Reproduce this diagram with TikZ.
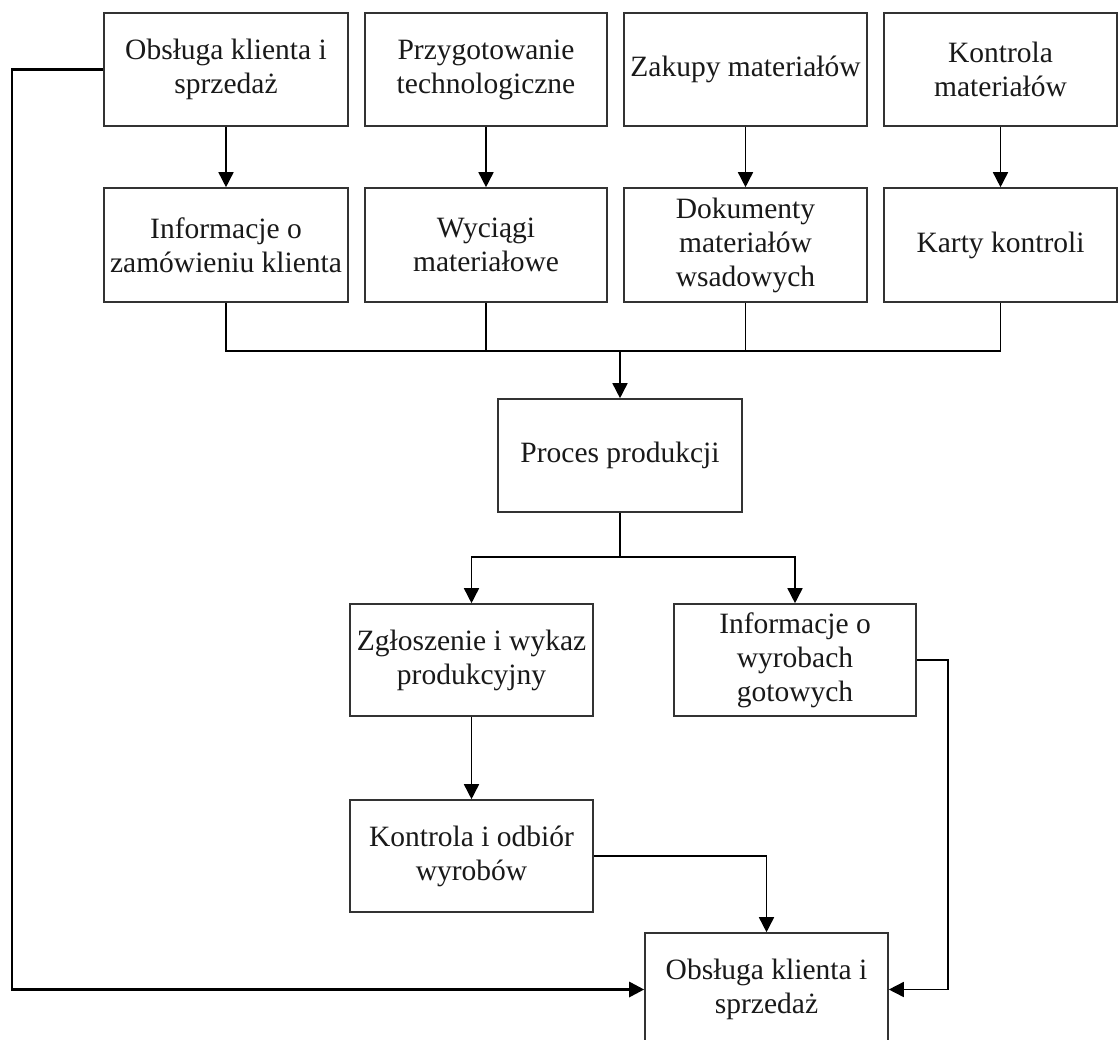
\documentclass[tikz,border=0pt]{standalone}
\usepackage{fontspec}
\setmainfont{Liberation Serif}
\usetikzlibrary{arrows.meta}
\begin{document}
\begin{tikzpicture}[x=1pt,y=-1pt,
  blk/.style={draw=black!80, line width=1.6pt, inner sep=0pt, align=center,
    font=\fontsize{29.5}{34}\selectfont, text=black!90},
  ln/.style={draw=black, line width=1.6pt},
  arr/.style={ln, -{Triangle[length=15pt,width=15pt]}},
  heavy/.style={line width=2.8pt}]
\useasboundingbox[fill=white] (0,0) rectangle (1118,1040);

% top row: departments
\node[blk, minimum width=244pt, minimum height=113pt] (a1) at (226,69.5) {Obsługa klienta i\\sprzedaż};
\node[blk, minimum width=242pt, minimum height=113pt] (a2) at (486,69.5) {Przygotowanie\\technologiczne};
\node[blk, minimum width=243pt, minimum height=113pt] (a3) at (745.5,69.5) {Zakupy materiałów};
\node[blk, minimum width=233pt, minimum height=113pt] (a4) at (1000.5,69.5) {Kontrola\\materiałów};

% second row: documents
\node[blk, minimum width=244pt, minimum height=114pt] (b1) at (226,245) {Informacje o\\zamówieniu klienta};
\node[blk, minimum width=242pt, minimum height=114pt] (b2) at (486,245) {Wyciągi\\materiałowe};
\node[blk, minimum width=243pt, minimum height=114pt] (b3) at (745.5,245) {Dokumenty\\materiałów\\wsadowych};
\node[blk, minimum width=233pt, minimum height=114pt] (b4) at (1000.5,245) {Karty kontroli};

% production and its outputs
\node[blk, minimum width=244pt, minimum height=113pt] (proc) at (620,455.5) {Proces produkcji};
\node[blk, minimum width=243pt, minimum height=112pt] (zg) at (471.5,660) {Zgłoszenie i wykaz\\produkcyjny};
\node[blk, minimum width=242pt, minimum height=112pt] (info) at (795,660) {Informacje o\\wyrobach\\gotowych};
\node[blk, minimum width=243pt, minimum height=112pt] (kon) at (471.5,856) {Kontrola i odbiór\\wyrobów};
\node[blk, minimum width=243pt, minimum height=113pt] (ob) at (766.5,989.5) {Obsługa klienta i\\sprzedaż};

% junction points
\coordinate (bus) at (620,351);
\coordinate (split) at (620,557);
\coordinate (rt) at (948,660);
\coordinate (lf) at (12,69.5);

% department to document
\foreach \i in {1,...,4} \draw[arr] (a\i) -- (b\i);

% documents merge into production
\draw[ln] (b1.south) |- (bus) -| (b4.south);
\draw[ln] (b2.south) -- (b2.south |- bus);
\draw[ln] (b3.south) -- (b3.south |- bus);
\draw[arr] (bus) -- (proc.north);

% production splits
\draw[ln] (proc.south) -- (split);
\draw[arr] (split) -| (zg.north);
\draw[arr] (split) -| (info.north);

\draw[arr] (zg) -- (kon);
\draw[arr] (kon.east) -| (ob.north);
\draw[arr] (info.east) -- (rt) |- (ob.east);
\draw[arr, heavy] (a1.west) -- (lf) |- (ob.west);
\end{tikzpicture}
\end{document}
